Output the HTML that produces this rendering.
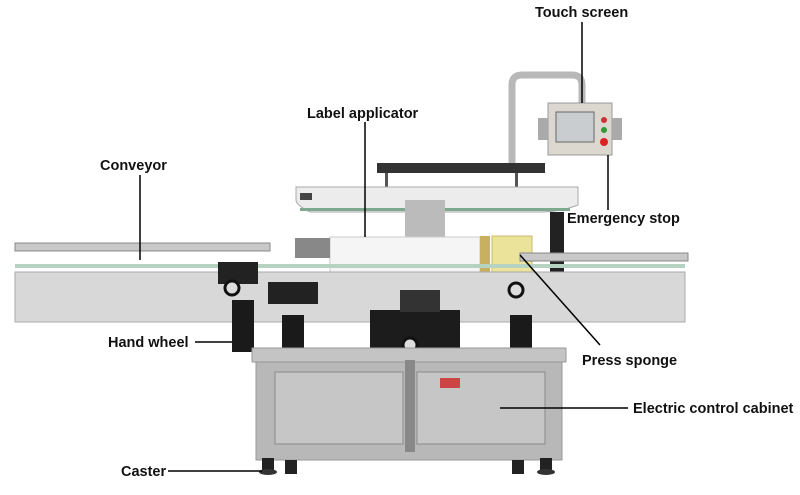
<!DOCTYPE html>
<html><head><style>
html,body{margin:0;padding:0;background:#fff;width:800px;height:495px;overflow:hidden}
text{font-family:"Liberation Sans",sans-serif;font-weight:bold;font-size:14.5px;fill:#111}
</style></head><body>
<svg width="800" height="495" viewBox="0 0 800 495">
<path d="M512 165 V85 Q512 75 522 75 H572 Q582 75 582 85 V105" fill="none" stroke="#b8b8b8" stroke-width="7"/>
<rect x="548" y="103" width="64" height="52" fill="#dcd8d0" stroke="#999"/>
<rect x="556" y="112" width="38" height="30" fill="#c9cdd0" stroke="#666"/>
<circle cx="604" cy="120" r="3" fill="#c33"/><circle cx="604" cy="130" r="3" fill="#393"/><circle cx="604" cy="142" r="4" fill="#d22"/>
<rect x="538" y="118" width="10" height="22" fill="#aaa"/><rect x="612" y="118" width="10" height="22" fill="#aaa"/>
<rect x="377" y="163" width="168" height="10" fill="#333"/>
<rect x="385" y="173" width="3" height="20" fill="#555"/><rect x="515" y="173" width="3" height="20" fill="#555"/>
<path d="M296 187 H578 V205 Q560 212 540 212 H310 Q296 205 296 200Z" fill="#ececec" stroke="#aaa"/>
<rect x="300" y="208" width="270" height="3" fill="#7fa890"/>
<rect x="300" y="193" width="12" height="7" fill="#444"/>
<rect x="550" y="212" width="14" height="60" fill="#222"/>
<rect x="405" y="200" width="40" height="40" fill="#bbb"/>
<rect x="330" y="237" width="150" height="38" fill="#f5f5f5" stroke="#ccc"/>
<rect x="295" y="238" width="35" height="20" fill="#888"/>
<rect x="480" y="236" width="10" height="36" fill="#c9b060"/>
<rect x="492" y="236" width="40" height="36" fill="#ece39a" stroke="#c8bb70"/>
<rect x="15" y="243" width="255" height="8" fill="#c8c8c8" stroke="#888"/>
<rect x="520" y="253" width="168" height="8" fill="#c8c8c8" stroke="#888"/>
<rect x="15" y="264" width="670" height="4" fill="#b5d3c0"/>
<rect x="15" y="272" width="670" height="50" fill="#d8d8d8" stroke="#aaa"/>
<rect x="218" y="262" width="40" height="22" fill="#222"/>
<rect x="268" y="282" width="50" height="22" fill="#222"/>
<rect x="232" y="300" width="22" height="52" fill="#1a1a1a"/>
<rect x="282" y="315" width="22" height="35" fill="#1a1a1a"/>
<rect x="510" y="315" width="22" height="35" fill="#1a1a1a"/>
<rect x="370" y="310" width="90" height="45" fill="#1c1c1c"/>
<rect x="400" y="290" width="40" height="22" fill="#333"/>
<circle cx="410" cy="345" r="7" fill="#ddd" stroke="#111" stroke-width="3"/>
<circle cx="516" cy="290" r="7" fill="#ddd" stroke="#111" stroke-width="3"/>
<circle cx="232" cy="288" r="7" fill="#ddd" stroke="#111" stroke-width="3"/>
<rect x="252" y="348" width="314" height="14" fill="#c4c4c4" stroke="#999"/>
<rect x="256" y="362" width="306" height="98" fill="#b8b8b8" stroke="#999"/>
<rect x="275" y="372" width="128" height="72" fill="#c6c6c6" stroke="#8a8a8a"/>
<rect x="417" y="372" width="128" height="72" fill="#c6c6c6" stroke="#8a8a8a"/>
<rect x="405" y="360" width="10" height="92" fill="#888"/>
<rect x="440" y="378" width="20" height="10" fill="#c44"/>
<rect x="262" y="458" width="12" height="14" fill="#222"/><rect x="285" y="460" width="12" height="14" fill="#222"/>
<rect x="512" y="460" width="12" height="14" fill="#222"/><rect x="540" y="458" width="12" height="14" fill="#222"/>
<ellipse cx="268" cy="472" rx="9" ry="3" fill="#333"/><ellipse cx="546" cy="472" rx="9" ry="3" fill="#333"/>
<g stroke="#000" stroke-width="1.5" fill="none">
<line x1="582" y1="22" x2="582" y2="103"/>
<line x1="365" y1="122" x2="365" y2="237"/>
<line x1="140" y1="175" x2="140" y2="260"/>
<line x1="608" y1="155" x2="608" y2="210"/>
<line x1="195" y1="342" x2="232" y2="342"/>
<line x1="520" y1="255" x2="600" y2="345"/>
<line x1="500" y1="408" x2="628" y2="408"/>
<line x1="168" y1="471" x2="262" y2="471"/>
</g>
<text x="535" y="17">Touch screen</text>
<text x="307" y="118">Label applicator</text>
<text x="100" y="170">Conveyor</text>
<text x="567" y="223">Emergency stop</text>
<text x="108" y="347">Hand wheel</text>
<text x="582" y="365">Press sponge</text>
<text x="633" y="413">Electric control cabinet</text>
<text x="121" y="476">Caster</text>
</svg>
</body></html>
